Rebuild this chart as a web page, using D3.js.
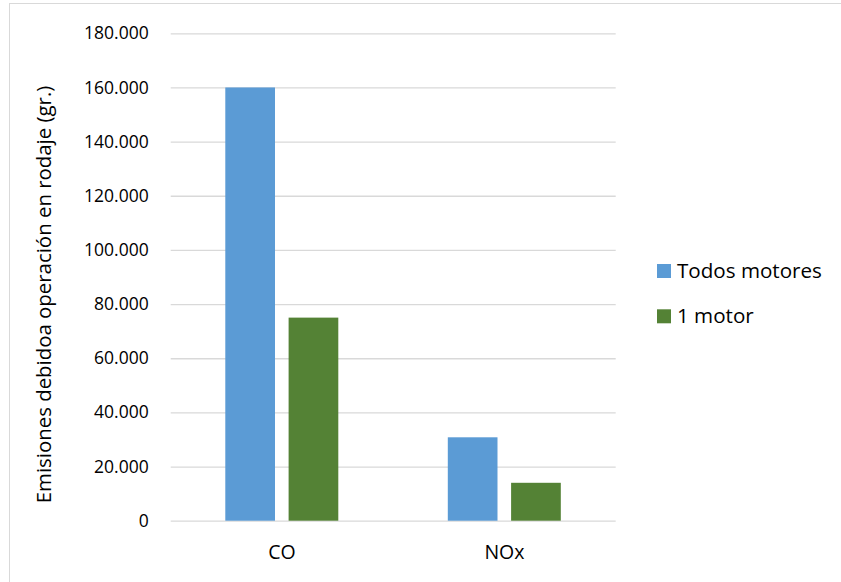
<!DOCTYPE html>
<html>
<head>
<meta charset="utf-8">
<script src="https://cdn.jsdelivr.net/npm/d3@7/dist/d3.min.js"></script>
<style>
  html, body { margin: 0; padding: 0; background: #fff; }
  svg { display: block; }
  text { font-family: "Open Sans", Lato, sans-serif; fill: #000; }
</style>
</head>
<body>
<script>
// Emisiones en rodaje por contaminante
const categories = ["CO", "NOx"];
const seriesNames = ["Todos motores", "1 motor"];
const todosMotores = [160000, 30800];
const unMotor = [75000, 14000];
const yTicks = [0, 20000, 40000, 60000, 80000, 100000, 120000, 140000, 160000, 180000];
const seriesColors = ["#5b9bd5", "#548235"];
const yTitle = "Emisiones debidoa operación en rodaje (gr.)";

const W = 841, H = 582;
const plot = { left: 170.7, right: 615.7, top: 33.3, bottom: 520.7 };
const FONT = "'Open Sans', Lato, sans-serif";

const svg = d3.select("body").append("svg")
  .attr("width", W).attr("height", H);

// chart area frame
svg.append("rect")
  .attr("x", 9.5).attr("y", 3.5)
  .attr("width", 840).attr("height", 590)
  .attr("fill", "#fff").attr("stroke", "#d9d9d9").attr("stroke-width", 1);

const es = d3.formatLocale({ decimal: ",", thousands: ".", grouping: [3], currency: ["", "€"] });
const fmt = es.format(",d");

const y = d3.scaleLinear().domain([0, 180000]).range([plot.bottom, plot.top]);
const x0 = d3.scaleBand().domain(categories).range([plot.left, plot.right]).padding(0);
const groupOffset = 54.6, groupWidth = 113;
const x1 = d3.scaleBand().domain(seriesNames)
  .range([groupOffset, groupOffset + groupWidth]).paddingInner(0.215).paddingOuter(0);

// gridlines and tick labels
const yAxis = d3.axisLeft(y).tickValues(yTicks).tickFormat(fmt)
  .tickSize(-(plot.right - plot.left)).tickPadding(22);
const gy = svg.append("g").attr("transform", `translate(${plot.left},0)`).call(yAxis);
gy.select(".domain").remove();
gy.selectAll(".tick line").attr("stroke", "#d9d9d9").attr("stroke-width", 1.3);
gy.selectAll(".tick text").attr("font-size", 17.5).attr("fill", "#000")
  .style("font-family", FONT);

// bars
const rows = categories.map((c, i) => ({ cat: c, values: [todosMotores[i], unMotor[i]] }));
const groups = svg.append("g").selectAll("g").data(rows).join("g")
  .attr("transform", d => `translate(${x0(d.cat)},0)`);
groups.selectAll("rect")
  .data(d => d.values.map((v, j) => ({ name: seriesNames[j], value: v, color: seriesColors[j] })))
  .join("rect")
  .attr("x", d => x1(d.name))
  .attr("width", x1.bandwidth())
  .attr("y", d => y(d.value))
  .attr("height", d => y(0) - y(d.value))
  .attr("fill", d => d.color);

// category labels
const xAxis = d3.axisBottom(x0).tickSize(0).tickPadding(24);
const gx = svg.append("g").attr("transform", `translate(0,${plot.bottom})`).call(xAxis);
gx.select(".domain").remove();
gx.selectAll(".tick text").attr("font-size", 19.5).attr("fill", "#000")
  .style("font-family", FONT);

// y axis title
svg.append("text")
  .attr("transform", `translate(50.5,294.5) rotate(-90)`)
  .attr("text-anchor", "middle")
  .attr("font-size", 20.4)
  .text(yTitle);

// legend
const legend = svg.append("g").selectAll("g").data(seriesNames).join("g")
  .attr("transform", (d, i) => `translate(657,${264 + i * 45.3})`);
legend.append("rect").attr("width", 14).attr("height", 14)
  .attr("fill", (d, i) => seriesColors[i]);
legend.append("text").attr("x", 20).attr("y", 14)
  .attr("font-size", 20.6).text(d => d);
</script>
</body>
</html>
